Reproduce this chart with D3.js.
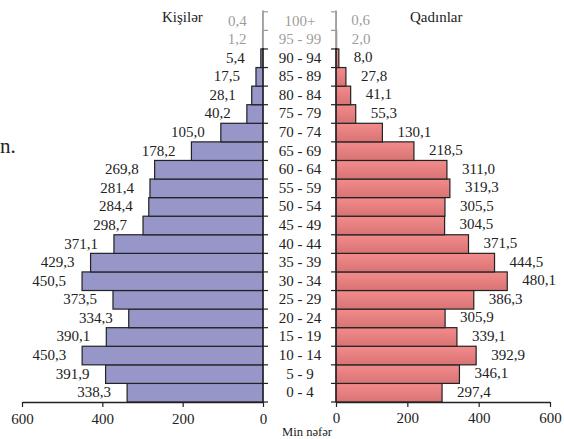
<!DOCTYPE html>
<html><head><meta charset="utf-8">
<script src="https://cdn.jsdelivr.net/npm/d3@7"></script>
<style>body{margin:0;background:#fff;}</style></head>
<body><svg id="c" width="564" height="439" font-family="Liberation Serif"></svg>
<script>
const ageGroups = ["0 - 4","5 - 9","10 - 14","15 - 19","20 - 24","25 - 29","30 - 34","35 - 39","40 - 44","45 - 49","50 - 54","55 - 59","60 - 64","65 - 69","70 - 74","75 - 79","80 - 84","85 - 89","90 - 94","95 - 99","100+"];
const males = [338.3,391.9,450.3,390.1,334.3,373.5,450.5,429.3,371.1,298.7,284.4,281.4,269.8,178.2,105.0,40.2,28.1,17.5,5.4,1.2,0.4];
const females = [297.4,346.1,392.9,339.1,305.9,386.3,480.1,444.5,371.5,304.5,305.5,319.3,311.0,218.5,130.1,55.3,41.1,27.8,8.0,2.0,0.6];
const tickValues = [0,200,400,600];

const FONT = "Liberation Serif";
const svg = d3.select("#c");
const fmt = v => v.toFixed(1).replace(".", ",");

const axisY = 402, topY = 11.8;
const y = d3.scaleBand().domain(ageGroups).range([axisY, topY]).padding(0);
const xL = d3.scaleLinear().domain([0,600]).range([263,22]);
const xR = d3.scaleLinear().domain([0,600]).range([336,550]);

const defs = svg.append("defs");
const g = defs.append("linearGradient").attr("id","fg").attr("x1",0).attr("y1",0).attr("x2",0).attr("y2",1);
g.append("stop").attr("offset","0%").attr("stop-color","#f38b8b");
g.append("stop").attr("offset","100%").attr("stop-color","#d97474");

// bars
svg.append("g").selectAll("rect").data(ageGroups).join("rect")
  .attr("x",(d,i)=>xL(males[i])).attr("y",d=>y(d))
  .attr("width",(d,i)=>xL(0)-xL(males[i])).attr("height",y.bandwidth())
  .attr("fill","#9696c9").attr("stroke","#222").attr("stroke-width",1.2);
svg.append("g").selectAll("rect").data(ageGroups).join("rect")
  .attr("x",xR(0)).attr("y",d=>y(d))
  .attr("width",(d,i)=>xR(females[i])-xR(0)).attr("height",y.bandwidth())
  .attr("fill","url(#fg)").attr("stroke","#222").attr("stroke-width",1.2);

// vertical axes with band ticks
const bounds = d3.range(ageGroups.length+1).map(i=>axisY - i*y.step());
const la = svg.append("g");
la.append("line").attr("x1",263).attr("x2",263).attr("y1",topY-1.5).attr("y2",axisY).attr("stroke","#222").attr("stroke-width",1.3);
la.selectAll("line.t").data(bounds).join("line").attr("class","t")
  .attr("x1",263).attr("x2",268).attr("y1",d=>d).attr("y2",d=>d).attr("stroke","#222").attr("stroke-width",1.2);
const ra = svg.append("g");
ra.append("line").attr("x1",336).attr("x2",336).attr("y1",topY-1.5).attr("y2",axisY).attr("stroke","#222").attr("stroke-width",1.3);
ra.selectAll("line.t").data(bounds).join("line").attr("class","t")
  .attr("x1",331).attr("x2",336).attr("y1",d=>d).attr("y2",d=>d).attr("stroke","#222").attr("stroke-width",1.2);

// bottom axes
function styleAxis(sel){
  sel.attr("font-family",FONT).attr("font-size",15);
  sel.select(".domain").attr("stroke","#222").attr("stroke-width",1.3);
  sel.selectAll(".tick line").attr("stroke","#222").attr("stroke-width",1.2);
  sel.selectAll(".tick text").attr("font-family",FONT).attr("font-size",15).attr("fill","#222");
}
svg.append("g").attr("transform",`translate(0,${axisY})`)
  .call(d3.axisBottom(xL).tickValues(tickValues).tickFormat(d3.format("d")).tickSizeInner(5).tickSizeOuter(0).tickPadding(6))
  .call(styleAxis);
svg.append("g").attr("transform",`translate(0,${axisY})`)
  .call(d3.axisBottom(xR).tickValues(tickValues).tickFormat(d3.format("d")).tickSizeInner(5).tickSizeOuter(0).tickPadding(5))
  .call(styleAxis);

function txt(sel){ return sel.attr("font-family",FONT).attr("font-size",15).attr("fill","#222"); }

// value labels
svg.append("g").selectAll("text").data(ageGroups).join("text")
  .attr("x",(d,i)=>xL(males[i])-16).attr("y",d=>y(d)+y.bandwidth()/2+4.5)
  .attr("text-anchor","end").call(txt).text((d,i)=>fmt(males[i]));
svg.append("g").selectAll("text").data(ageGroups).join("text")
  .attr("x",(d,i)=>xR(females[i])+15).attr("y",d=>y(d)+y.bandwidth()/2+4)
  .attr("text-anchor","start").call(txt).text((d,i)=>fmt(females[i]));
svg.append("g").selectAll("text").data(ageGroups).join("text")
  .attr("x",300).attr("y",d=>y(d)+y.bandwidth()/2+4.5)
  .attr("text-anchor","middle").call(txt).text(d=>d);

// faded overlay at top
svg.append("rect").attr("x",212).attr("y",0).attr("width",190).attr("height",48)
  .attr("fill","#fff").attr("opacity",0.55);

// titles
svg.append("text").attr("x",162).attr("y",22).call(txt).text("Kişilər");
svg.append("text").attr("x",410).attr("y",22).call(txt).text("Qadınlar");
svg.append("text").attr("x",282).attr("y",435.5).call(txt).attr("font-size",13.5)
  .attr("textLength",50).attr("lengthAdjust","spacingAndGlyphs").text("Min nəfər");
svg.append("text").attr("x",0).attr("y",153).call(txt).attr("font-size",21).text("n.");
</script></body></html>
